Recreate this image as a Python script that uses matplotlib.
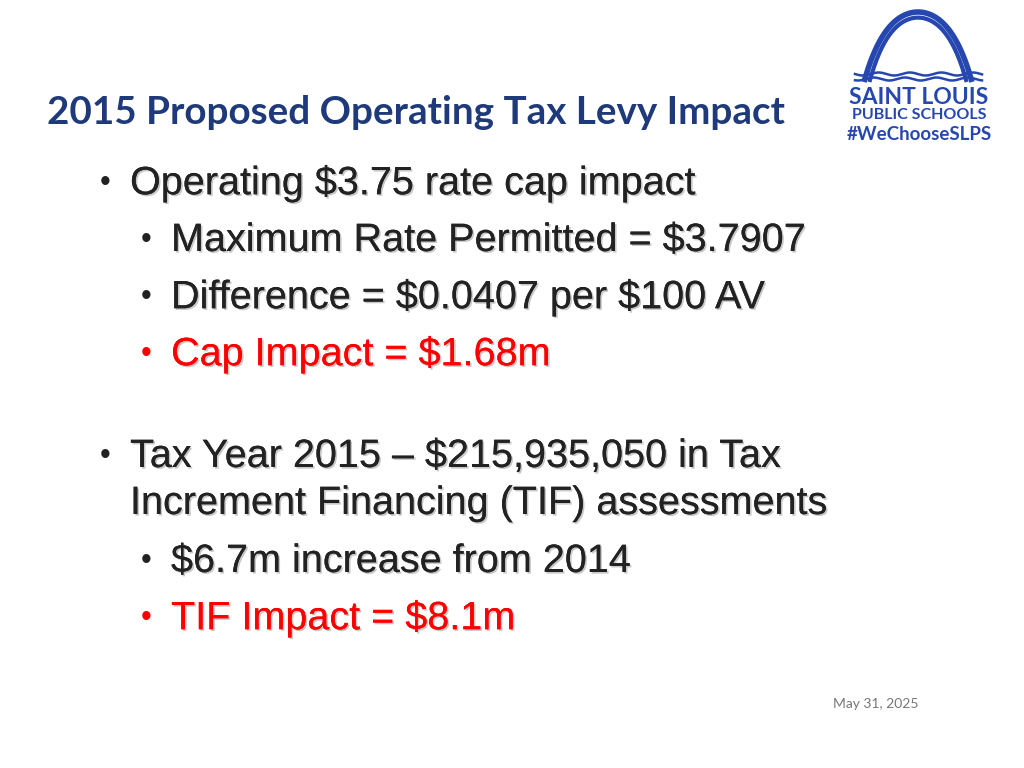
import numpy as np
import matplotlib
matplotlib.use("Agg")
import matplotlib.pyplot as plt
import matplotlib.patheffects as pe

title = "2015 Proposed Operating Tax Levy Impact"
bullet_lines = [
    "Operating $3.75 rate cap impact",
    "Maximum Rate Permitted = $3.7907",
    "Difference = $0.0407 per $100 AV",
    "Cap Impact = $1.68m",
    "Tax Year 2015 \u2013 $215,935,050 in Tax",
    "Increment Financing (TIF) assessments",
    "$6.7m increase from 2014",
    "TIF Impact = $8.1m",
]
bullet_levels = [1, 2, 2, 2, 1, 0, 2, 2]   # 0 = continuation line
bullet_red = [False, False, False, True, False, False, False, True]
line_y = [183, 240, 297, 354, 456, 503, 561, 618]
date_text = "May 31, 2025"

NAVY = "#1f3a7a"
LOGO = "#2747b0"

fig = plt.figure(figsize=(10.24, 7.68), dpi=100)
ax = fig.add_axes([0, 0, 1, 1])
ax.set_xlim(0, 1024)
ax.set_ylim(768, 0)
ax.axis("off")

ax.text(47, 112, title, fontsize=27.8, fontweight="bold", family="Lato",
        color=NAVY, va="center")

shadow = [pe.withSimplePatchShadow(offset=(1.2, -1.2), shadow_rgbFace="#bbbbbb", alpha=0.8), pe.Normal()]
for txt, lvl, red, y in zip(bullet_lines, bullet_levels, bullet_red, line_y):
    color = "#ff0000" if red else "#222222"
    x_text = {1: 130, 0: 130, 2: 171}[lvl]
    if lvl in (1, 2):
        ax.text(x_text - 30, y, "\u2022", fontsize=22, family="Liberation Sans",
                color=color, va="center", parse_math=False)
    ax.text(x_text, y, txt, fontsize=28.5, family="Liberation Sans",
            color=color, va="center", path_effects=shadow, parse_math=False)

ax.text(876, 704, date_text, fontsize=10, color="#777777", ha="center",
        va="center", family="Lato")

# logo: arch + waves + text
t = np.linspace(-1, 1, 200)
for half in (0, 1):
    xs = 918 + 54 * t * (1 - 0.1 * half)
    ys = 82 - 70 * (1 - (np.cosh(2.2 * t) - 1) / (np.cosh(2.2) - 1)) * (1 - 0.08 * half)
    ax.plot(xs, ys, color=LOGO, lw=4 if half == 0 else 3, solid_capstyle="butt")
wx = np.linspace(855, 982, 200)
for k, off in enumerate((74, 79)):
    ax.plot(wx, off + 1.5 * np.sin((wx - 855) / 5.0 + k), color=LOGO, lw=1.8)
ax.text(919, 97, "SAINT LOUIS", fontsize=16.5, fontweight="bold", color=LOGO,
        ha="center", va="center", family="Lato")
ax.text(919, 115, "PUBLIC SCHOOLS", fontsize=11.5, fontweight="bold", color=LOGO,
        ha="center", va="center", family="Lato")
ax.text(919, 135, "#WeChooseSLPS", fontsize=13.5, fontweight="bold", color=LOGO,
        ha="center", va="center", family="Lato")

fig.savefig("out.png", dpi=100, facecolor="white")
